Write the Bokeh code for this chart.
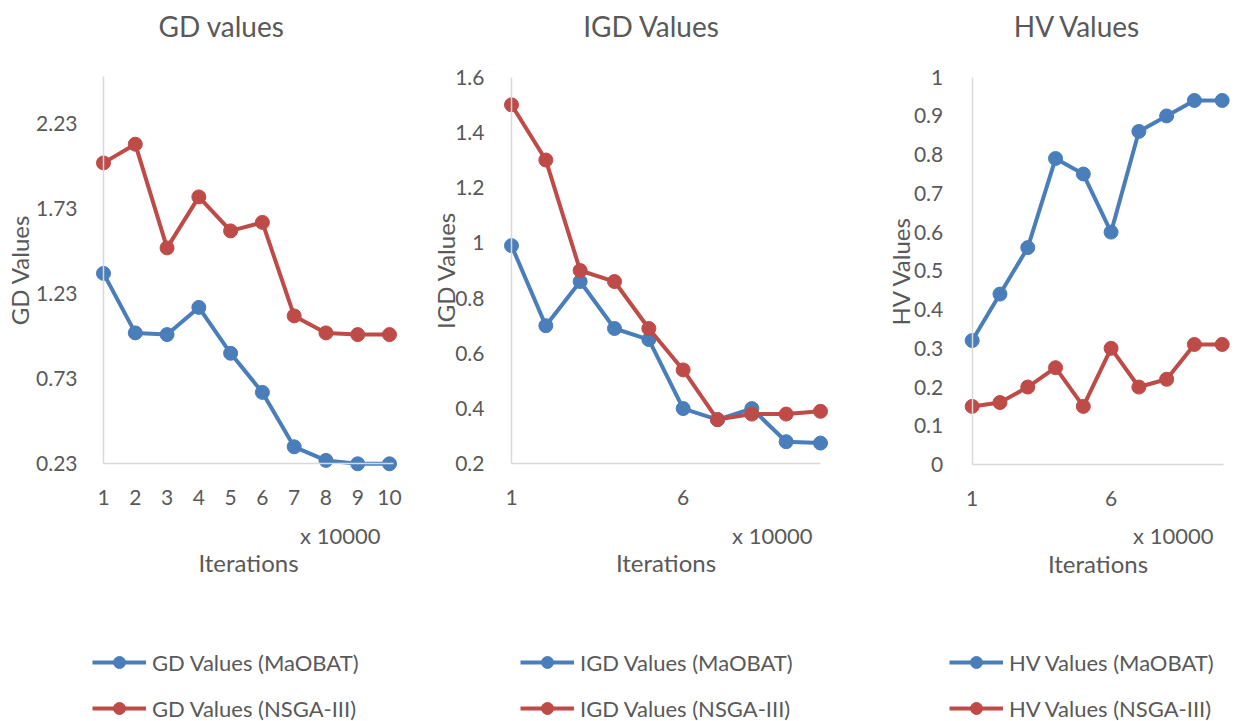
from bokeh.plotting import figure
from bokeh.layouts import row
from bokeh.models import (Range1d, FixedTicker, CustomJSTickFormatter, Legend, LegendItem,
                          Label, LinearAxis)
from bokeh.embed import file_html
from bokeh.resources import INLINE

# ---- data ----
iterations = [1, 2, 3, 4, 5, 6, 7, 8, 9, 10]
gd_maobat = [1.35, 1.00, 0.99, 1.15, 0.88, 0.65, 0.33, 0.25, 0.23, 0.23]
gd_nsga3 = [2.00, 2.11, 1.50, 1.80, 1.60, 1.65, 1.10, 1.00, 0.99, 0.99]
igd_maobat = [0.99, 0.70, 0.86, 0.69, 0.65, 0.40, 0.36, 0.40, 0.28, 0.275]
igd_nsga3 = [1.50, 1.30, 0.90, 0.86, 0.69, 0.54, 0.36, 0.38, 0.38, 0.39]
hv_maobat = [0.32, 0.44, 0.56, 0.79, 0.75, 0.60, 0.86, 0.90, 0.94, 0.94]
hv_nsga3 = [0.15, 0.16, 0.20, 0.25, 0.15, 0.30, 0.20, 0.22, 0.31, 0.31]

gd_ticks = [0.23, 0.73, 1.23, 1.73, 2.23]
igd_ticks = [0.2, 0.4, 0.6, 0.8, 1.0, 1.2, 1.4, 1.6]
hv_ticks = [0, 0.1, 0.2, 0.3, 0.4, 0.5, 0.6, 0.7, 0.8, 0.9, 1.0]
gd_xticks = [1, 2, 3, 4, 5, 6, 7, 8, 9, 10]
other_xticks = [1, 6]
unit_label = "x 10000"
x_title = "Iterations"

BLUE = "#4A7EBB"
RED = "#BE4B48"
TXT = "#595959"
AXIS = "#D9D9D9"
FONT = "Lato"
H = 721

LEG_GLYPH_H = 30
LEG_SPACING = 16
LEG_TOP = 647
LEG_HEIGHT = 2 * LEG_GLYPH_H + LEG_SPACING


def style_axis(ax):
    ax.axis_line_color = AXIS
    ax.axis_line_width = 1.5
    ax.major_tick_line_color = None
    ax.minor_tick_line_color = None
    ax.major_label_text_font = FONT
    ax.major_label_text_font_size = "21px"
    ax.major_label_text_color = TXT
    ax.axis_label_text_font = FONT
    ax.axis_label_text_font_size = "24px"
    ax.axis_label_text_font_style = "normal"
    ax.axis_label_text_color = TXT
    ax.formatter = CustomJSTickFormatter(code="return String(Math.round(tick*100)/100)")


def make_panel(width, px_first, px_last, x_end_val, ylo, yhi, py_lo, py_hi, y_top_val,
               yticks, xticks, title, title_x, ylabel, s1, s2, lab1, lab2,
               unit_right, leg_x, ylabel_standoff, ytick_standoff):
    # scale: the frame is the whole figure; axes are pinned inside it
    ax_ = (px_last - px_first) / 9.0
    x0 = 1 - px_first / ax_
    x1 = x0 + width / ax_
    by = (py_lo - py_hi) / (yhi - ylo)
    y1 = ylo + py_lo / by
    y0 = ylo - (H - py_lo) / by

    p = figure(width=width, height=H, output_backend="svg", toolbar_location=None,
               x_range=Range1d(x0, x1), y_range=Range1d(y0, y1),
               x_axis_location=None, y_axis_location=None,
               min_border=0, min_border_left=0, min_border_right=0,
               min_border_top=0, min_border_bottom=0)
    p.outline_line_color = None
    p.grid.visible = False
    p.background_fill_color = "white"
    p.border_fill_color = "white"

    yax = LinearAxis(fixed_location=1, bounds=(ylo, y_top_val),
                     ticker=FixedTicker(ticks=yticks), axis_label=ylabel)
    style_axis(yax)
    yax.major_label_standoff = ytick_standoff
    yax.axis_label_standoff = ylabel_standoff
    p.add_layout(yax, "left")

    xax = LinearAxis(fixed_location=ylo, bounds=(1, x_end_val),
                     ticker=FixedTicker(ticks=xticks), axis_label=x_title)
    style_axis(xax)
    xax.major_label_standoff = 20
    xax.axis_label_standoff = 40
    p.add_layout(xax, "below")

    l1 = p.line(iterations, s1, line_color=BLUE, line_width=4)
    c1 = p.scatter(iterations, s1, size=14, fill_color=BLUE, line_color=BLUE)
    l2 = p.line(iterations, s2, line_color=RED, line_width=4)
    c2 = p.scatter(iterations, s2, size=14, fill_color=RED, line_color=RED)

    p.add_layout(Label(x=title_x, y=H - 25, x_units="screen", y_units="screen",
                       text=title, text_font=FONT, text_font_size="28px", text_color=TXT,
                       text_align="center", text_baseline="middle"))
    p.add_layout(Label(x=unit_right, y=H - 535, x_units="screen", y_units="screen",
                       text=unit_label, text_font=FONT, text_font_size="22px", text_color=TXT,
                       text_align="right", text_baseline="middle"))

    leg = Legend(items=[LegendItem(label=lab1, renderers=[l1, c1]),
                        LegendItem(label=lab2, renderers=[l2, c2])],
                 location=(leg_x, H - (LEG_TOP + LEG_HEIGHT)), orientation="vertical",
                 glyph_width=54, glyph_height=LEG_GLYPH_H, label_height=20, spacing=LEG_SPACING,
                 label_standoff=6, padding=0, margin=0,
                 label_text_font=FONT, label_text_font_size="22px", label_text_color=TXT,
                 background_fill_alpha=0, border_line_alpha=0)
    p.add_layout(leg, "center")
    return p


p1 = make_panel(430, 103, 389, 10.126, 0.23, 2.23, 463.3, 123.3, 2.508,
                gd_ticks, gd_xticks, "GD values", 221, "GD Values", gd_maobat, gd_nsga3,
                "GD Values (MaOBAT)", "GD Values (NSGA-III)", 380, 92, -1, 20)
p2 = make_panel(435, 81, 390, 10, 0.2, 1.6, 463.3, 76.7, 1.6,
                igd_ticks, other_xticks, "IGD Values", 221, "IGD Values", igd_maobat, igd_nsga3,
                "IGD Values (MaOBAT)", "IGD Values (NSGA-III)", 382, 90, -8, 21)
p3 = make_panel(379, 106.7, 356.7, 10.05, 0.0, 1.0, 464, 76.7, 1.0,
                hv_ticks, other_xticks, "HV Values", 212, "HV Values", hv_maobat, hv_nsga3,
                "HV Values (MaOBAT)", "HV Values (NSGA-III)", 348, 84, -4, 23)

layout = row(p1, p2, p3, spacing=0)
open("out.html", "w").write(file_html(layout, INLINE))
